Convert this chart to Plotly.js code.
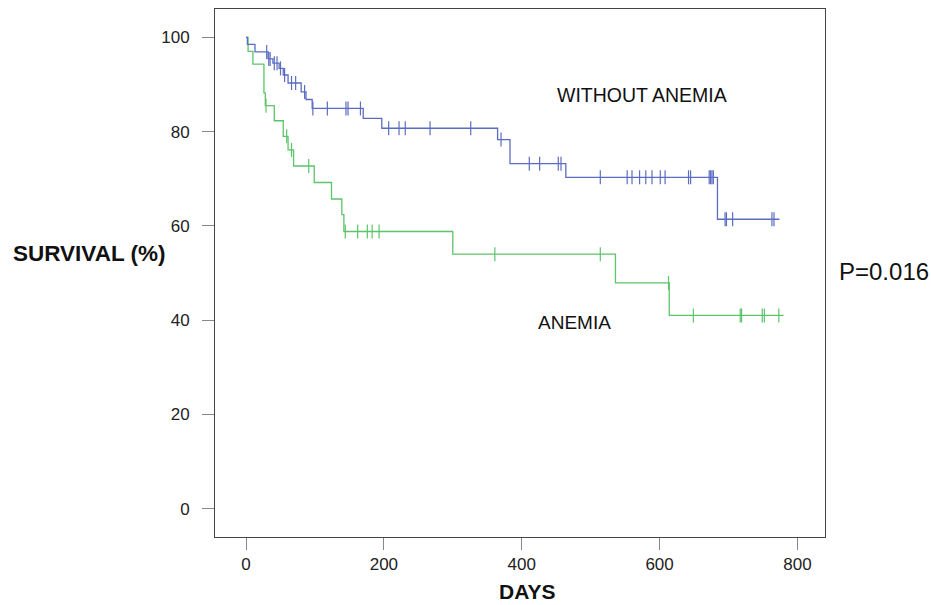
<!DOCTYPE html>
<html>
<head>
<meta charset="utf-8">
<script src="https://cdn.plot.ly/plotly-3.0.1.min.js"></script>
<style>html,body{margin:0;padding:0;background:#fff;}#chart{width:931px;height:605px;}</style>
</head>
<body>
<div id="chart"></div>
<script>
// Without anemia (blue): event times (days) and survival (%) after each step
const blueTimes  = [0, 2, 13, 32, 39, 48, 54, 61, 80, 87, 96, 170, 197, 365, 383, 464, 684];
const blueValues = [100, 98.5, 96.9, 95.4, 94.5, 93.4, 92.0, 90.3, 88.4, 86.8, 84.9, 82.8, 80.7, 78.3, 73.2, 70.3, 61.4];
const blueEnd = 774;
const blueCensored = [30, 33, 35, 41, 45, 50, 56, 66, 72, 85, 97, 118, 145, 148, 166, 207, 222, 231, 267, 326, 370, 411, 426, 453, 457, 514, 553, 560, 571, 580, 589, 601, 608, 642, 645, 672, 674, 676, 678, 695, 697, 706, 763, 766];

// Anemia (green)
const greenTimes  = [0, 3, 10, 26, 28, 41, 54, 61, 69, 99, 124, 139, 142, 300, 536, 614];
const greenValues = [100, 97.0, 94.3, 88.2, 85.5, 82.3, 79.0, 76.1, 72.7, 69.2, 65.7, 62.4, 58.8, 54.0, 47.9, 41.0];
const greenEnd = 780;
const greenCensored = [29, 59, 66, 91, 144, 162, 176, 183, 193, 361, 514, 613, 649, 717, 719, 749, 752, 773];

const xTicks = [0, 200, 400, 600, 800];
const yTicks = [0, 20, 40, 60, 80, 100];

const blueColor = '#5b6dc2';
const greenColor = '#5cc46a';

function stepAt(times, values, t) {
  let v = values[0];
  for (let i = 0; i < times.length; i++) { if (times[i] <= t) v = values[i]; }
  return v;
}

function curve(times, values, end, color) {
  return {
    x: times.concat([end]),
    y: values.concat([values[values.length - 1]]),
    type: 'scatter', mode: 'lines',
    line: {shape: 'hv', color: color, width: 1.3},
    hoverinfo: 'skip', showlegend: false
  };
}
function censors(cTimes, times, values, color) {
  return {
    x: cTimes,
    y: cTimes.map(t => stepAt(times, values, t)),
    type: 'scatter', mode: 'markers',
    marker: {symbol: 'line-ns', size: 10, color: color, line: {color: color, width: 1.2}},
    hoverinfo: 'skip', showlegend: false
  };
}

const data = [
  curve(greenTimes, greenValues, greenEnd, greenColor),
  censors(greenCensored, greenTimes, greenValues, greenColor),
  curve(blueTimes, blueValues, blueEnd, blueColor),
  censors(blueCensored, blueTimes, blueValues, blueColor)
];

const tickFont = {family: 'Liberation Sans, Arial, sans-serif', size: 17, color: '#222'};

const layout = {
  width: 931, height: 605,
  margin: {l: 215, r: 106, t: 9, b: 68},
  paper_bgcolor: '#fff', plot_bgcolor: '#fff',
  showlegend: false,
  xaxis: {
    range: [-45, 840], tickvals: xTicks, ticktext: xTicks.map(String),
    ticks: 'outside', ticklen: 12, tickcolor: '#888', tickwidth: 1,
    showline: true, linecolor: '#444', linewidth: 1, mirror: true,
    showgrid: false, zeroline: false, tickfont: tickFont
  },
  yaxis: {
    range: [-6, 106], tickvals: yTicks, ticktext: yTicks.map(String),
    ticks: 'outside', ticklen: 12, tickcolor: '#888', tickwidth: 1,
    ticklabelstandoff: 9,
    showline: true, linecolor: '#444', linewidth: 1, mirror: true,
    showgrid: false, zeroline: false, tickfont: tickFont
  },
  annotations: [
    {text: '<b>SURVIVAL (%)</b>', xref: 'paper', yref: 'paper', x: (11 - 215) / 610, y: (537 - 253) / 528,
     xanchor: 'left', yanchor: 'middle', showarrow: false,
     font: {family: 'Liberation Sans, Arial, sans-serif', size: 22.5, color: '#111'}},
    {text: '<b>DAYS</b>', xref: 'paper', yref: 'paper', x: (527 - 215) / 610, y: (537 - 591) / 528,
     xanchor: 'center', yanchor: 'middle', showarrow: false,
     font: {family: 'Liberation Sans, Arial, sans-serif', size: 21, color: '#111'}},
    {text: 'P=0.016', xref: 'paper', yref: 'paper', x: (837 - 215) / 610, y: (537 - 271) / 528,
     xanchor: 'left', yanchor: 'middle', showarrow: false,
     font: {family: 'Liberation Sans, Arial, sans-serif', size: 24, color: '#111'}},
    {text: 'WITHOUT ANEMIA', xref: 'x', yref: 'y', x: 575, y: 87.7,
     xanchor: 'center', yanchor: 'middle', showarrow: false,
     font: {family: 'Liberation Sans, Arial, sans-serif', size: 19.5, color: '#111'}},
    {text: 'ANEMIA', xref: 'x', yref: 'y', x: 477, y: 39.4,
     xanchor: 'center', yanchor: 'middle', showarrow: false,
     font: {family: 'Liberation Sans, Arial, sans-serif', size: 19, color: '#111'}}
  ]
};

Plotly.newPlot('chart', data, layout, {staticPlot: true, displayModeBar: false});
</script>
</body>
</html>
